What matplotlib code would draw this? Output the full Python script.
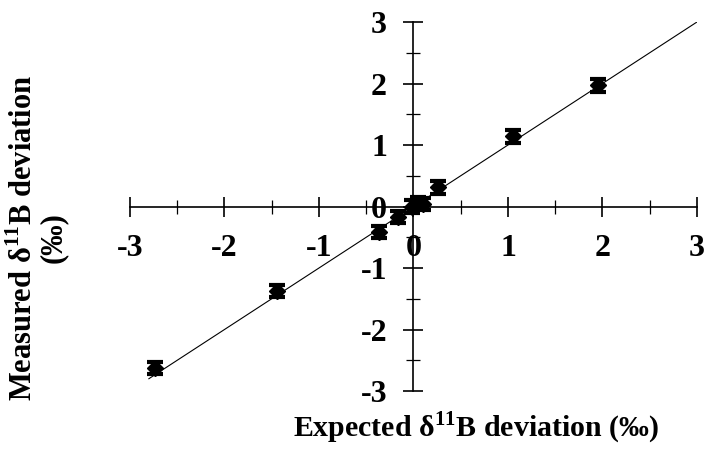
import matplotlib
matplotlib.use('Agg')
import matplotlib.pyplot as plt
from matplotlib.ticker import MultipleLocator

plt.rcParams['font.family'] = 'Liberation Serif'
plt.rcParams['font.weight'] = 'bold'
plt.rcParams['mathtext.fontset'] = 'custom'
plt.rcParams['mathtext.rm'] = 'Liberation Serif:bold'
plt.rcParams['mathtext.bf'] = 'Liberation Serif:bold'

# valores esperados vs medidos (‰)
esperado = [-2.74, -1.44, -0.37, -0.16, -0.02, 0.05, 0.10, 0.26, 1.05, 1.95]
medido = [-2.63, -1.37, -0.42, -0.17, 0.00, 0.06, 0.04, 0.31, 1.14, 1.97]
error = [0.1] * len(medido)

# recta 1:1
recta_x = [-2.8, 3.0]

fig = plt.figure(figsize=(7.06, 4.51), dpi=100)
ax = fig.add_axes([0.1841, 0.1330, 0.8031, 0.8182])

ax.plot(recta_x, recta_x, color='black', lw=0.8, zorder=1)
ax.errorbar(esperado, medido, yerr=error, fmt='D', color='black', ms=8,
            capsize=5.5, capthick=3, elinewidth=2.5, zorder=3)

ax.set_xlim(-3, 3)
ax.set_ylim(-3, 3)
ax.spines['left'].set_position(('data', 0))
ax.spines['bottom'].set_position(('data', 0))
ax.spines['top'].set_visible(False)
ax.spines['right'].set_visible(False)
ax.spines['left'].set_linewidth(1.2)
ax.spines['bottom'].set_linewidth(1.2)

ax.xaxis.set_minor_locator(MultipleLocator(0.5))
ax.yaxis.set_minor_locator(MultipleLocator(0.5))
ax.tick_params(which='major', direction='inout', length=14, width=1.2,
               labelsize=23)
ax.tick_params(which='minor', direction='inout', length=10, width=0.9)
ax.tick_params(axis='x', which='major', pad=13)
ax.tick_params(axis='y', which='major', pad=12)
ax.set_xticks([-3, -2, -1, 0, 1, 2, 3])
ax.set_xticklabels(['-3', '-2', '-1', '0', '1', '2', '3'])
ax.set_yticks([-3, -2, -1, 0, 1, 2, 3])
ax.set_yticklabels(['-3', '-2', '-1', '0', '1', '2', '3'])

fig.text(476 / 706, 1 - 428 / 451, r'Expected δ$^{\mathbf{11}}$B deviation (‰)',
         ha='center', va='center', fontsize=21.5, fontweight='bold')
fig.text(38 / 706, 1 - 238 / 451,
         'Measured δ$^{\\mathbf{11}}$B deviation\n(‰)',
         ha='center', va='center', rotation=90, multialignment='center',
         fontsize=22, fontweight='bold', linespacing=1.0)

fig.savefig('out.png', dpi=100)
